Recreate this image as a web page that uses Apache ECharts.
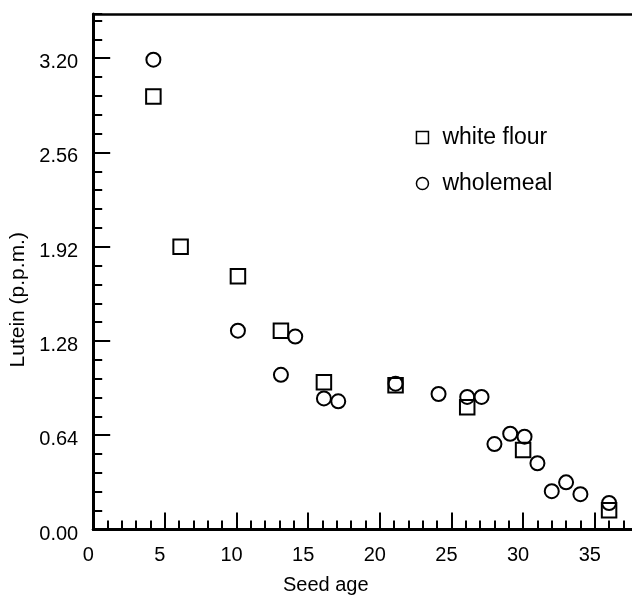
<!DOCTYPE html>
<html>
<head>
<meta charset="utf-8">
<script src="https://cdn.jsdelivr.net/npm/echarts@6/dist/echarts.min.js"></script>
<style>
  html, body { margin: 0; padding: 0; background: #fff; }
  #chart { width: 632px; height: 595px; }
</style>
</head>
<body>
<div id="chart"></div>
<script>
// ---- data ----
var whiteFlourAge     = [4.2, 6.1, 10.1, 13.1, 16.1, 21.1, 26.1, 30.0, 36.0];
var whiteFlourLutein  = [2.94, 1.92, 1.72, 1.35, 1.00, 0.98, 0.83, 0.54, 0.13];
var wholemealAge      = [4.2, 10.1, 13.1, 14.1, 16.1, 17.1, 21.1, 24.1, 26.1, 27.1, 28.0, 29.1, 30.1, 31.0, 32.0, 33.0, 34.0, 36.0];
var wholemealLutein   = [3.19, 1.35, 1.05, 1.31, 0.89, 0.87, 0.99, 0.92, 0.90, 0.90, 0.58, 0.65, 0.63, 0.45, 0.26, 0.32, 0.24, 0.18];
var seriesNames       = ['white flour', 'wholemeal'];
var yTickLabels       = ['0.00', '0.64', '1.28', '1.92', '2.56', '3.20'];
var xTickLabels       = ['0', '5', '10', '15', '20', '25', '30', '35'];
var xAxisName         = 'Seed age';
var yAxisName         = 'Lutein (p.p.m.)';

function zip(a, b) { return a.map(function (v, i) { return [v, b[i]]; }); }

var FONT = 'Liberation Sans';
var chart = echarts.init(document.getElementById('chart'), null, { renderer: 'canvas' });

var option = {
  animation: false,
  backgroundColor: '#fff',
  grid: { left: 93.2, top: 14, bottom: 65.5, right: -34.4, containLabel: false, outerBoundsMode: 'none' },
  legend: {
    orient: 'vertical',
    left: 415.7,
    top: 126,
    padding: 0,
    itemWidth: 12,
    itemHeight: 12,
    itemGap: 23,
    selectedMode: false,
    textStyle: { fontFamily: FONT, fontSize: 23, color: '#000', padding: [0, 0, 0, 9] },
    data: [
      { name: seriesNames[0], icon: 'rect', itemStyle: { color: 'rgba(0,0,0,0)', borderColor: '#000', borderWidth: 1.5 } },
      { name: seriesNames[1], icon: 'circle', itemStyle: { color: 'rgba(0,0,0,0)', borderColor: '#000', borderWidth: 1.5 } }
    ]
  },
  xAxis: [
    {
      type: 'value', position: 'bottom', min: 0, max: 40, interval: 5,
      name: xAxisName, nameLocation: 'middle', nameGap: 46,
      nameTextStyle: { fontFamily: FONT, fontSize: 20, color: '#000', padding: [0, 108, 0, 0] },
      axisLine: { show: true, onZero: false, lineStyle: { color: '#000', width: 3 } },
      axisTick: { show: true, inside: true, length: 17, lineStyle: { color: '#000', width: 2 } },
      minorTick: { show: true, splitNumber: 5, length: 9, lineStyle: { color: '#000', width: 2 } },
      splitLine: { show: false },
      axisLabel: {
        fontFamily: FONT, fontSize: 20, color: '#000', margin: 16, padding: [0, 10, 0, 0],
        formatter: function (v) { var i = Math.round(v / 5); return (Math.abs(v - i * 5) < 1e-6 && xTickLabels[i] !== undefined) ? xTickLabels[i] : ''; }
      }
    },
    {
      type: 'value', position: 'top', min: 0, max: 40,
      axisLine: { show: true, onZero: false, lineStyle: { color: '#000', width: 2.5 } },
      axisTick: { show: false }, axisLabel: { show: false }, splitLine: { show: false }
    }
  ],
  yAxis: [
    {
      type: 'value', position: 'left', min: 0, max: 3.5, interval: 0.64,
      name: yAxisName, nameLocation: 'middle', nameGap: 59, nameRotate: 90,
      nameTextStyle: { fontFamily: FONT, fontSize: 21, color: '#000', padding: [0, 56, 0, 0] },
      axisLine: { show: true, onZero: false, lineStyle: { color: '#000', width: 3 } },
      axisTick: { show: true, inside: true, length: 17, lineStyle: { color: '#000', width: 2 } },
      splitLine: { show: false },
      axisLabel: {
        fontFamily: FONT, fontSize: 20, color: '#000', margin: 15, verticalAlign: 'top', lineHeight: 9, showMaxLabel: false,
        formatter: function (v) { var i = Math.round(v / 0.64); return (Math.abs(v - i * 0.64) < 1e-6 && yTickLabels[i] !== undefined) ? yTickLabels[i] : ''; }
      }
    },
    {
      type: 'value', position: 'left', min: 0, max: 3.5, interval: 0.128,
      axisLine: { show: false },
      axisTick: { show: true, inside: true, length: 9, lineStyle: { color: '#000', width: 2 } },
      axisLabel: { show: false }, splitLine: { show: false }
    }
  ],
  series: [
    {
      name: seriesNames[0], type: 'scatter', xAxisIndex: 0, yAxisIndex: 0,
      symbol: 'rect', symbolSize: 14.5,
      itemStyle: { color: 'rgba(0,0,0,0)', borderColor: '#000', borderWidth: 2, opacity: 1 },
      emphasis: { disabled: true },
      data: zip(whiteFlourAge, whiteFlourLutein)
    },
    {
      name: seriesNames[1], type: 'scatter', xAxisIndex: 0, yAxisIndex: 0,
      symbol: 'circle', symbolSize: 14,
      itemStyle: { color: 'rgba(0,0,0,0)', borderColor: '#000', borderWidth: 2, opacity: 1 },
      emphasis: { disabled: true },
      data: zip(wholemealAge, wholemealLutein)
    }
  ]
};
chart.setOption(option);
</script>
</body>
</html>
